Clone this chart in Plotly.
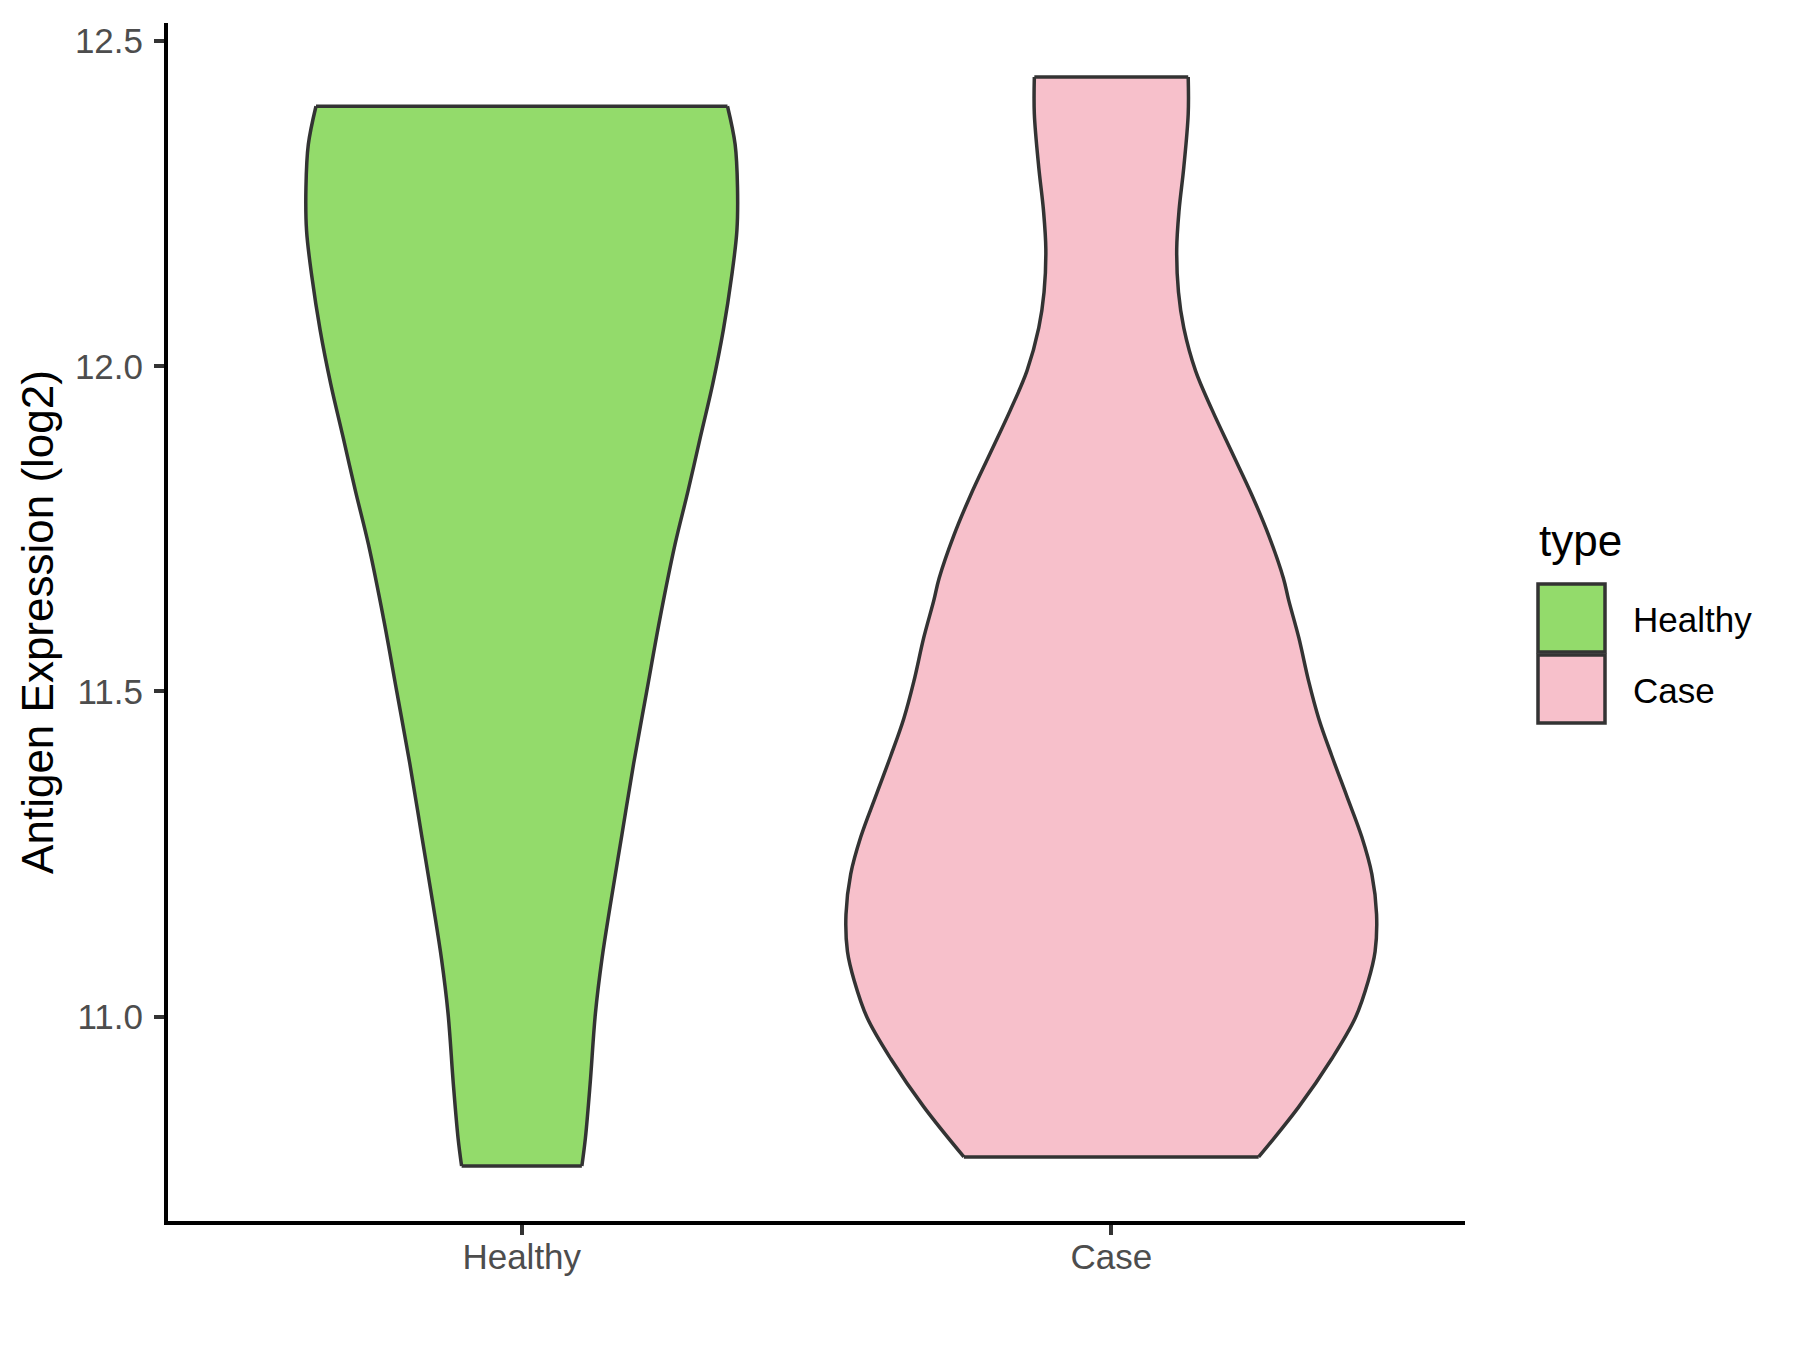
import plotly.graph_objects as go

# ---------------- data ----------------
categories = ["Healthy", "Case"]

# violin density profiles: expression value (log2) and half-width (category units)
healthy_y = [10.770, 10.813, 10.896, 11.005, 11.088, 11.170, 11.280, 11.390, 11.500,
             11.610, 11.726, 11.808, 11.891, 11.973, 12.056, 12.138, 12.209,
             12.275, 12.341, 12.400]
healthy_hw = [0.102, 0.108, 0.116, 0.125, 0.136, 0.150, 0.170, 0.190, 0.212,
              0.234, 0.260, 0.282, 0.303, 0.324, 0.342, 0.356, 0.365,
              0.366, 0.362, 0.349]

case_y = [10.784, 10.861, 10.935, 10.998, 11.055, 11.100, 11.157, 11.219, 11.276,
          11.339, 11.401, 11.458, 11.515, 11.583, 11.640, 11.674, 11.740, 11.801,
          11.867, 11.933, 11.993, 12.059, 12.114, 12.180, 12.240, 12.306, 12.388,
          12.445]
case_hw = [0.250, 0.318, 0.374, 0.414, 0.436, 0.4475, 0.450, 0.442, 0.425,
           0.3995, 0.374, 0.352, 0.335, 0.318, 0.301, 0.292, 0.267, 0.239,
           0.205, 0.171, 0.143, 0.123, 0.114, 0.111, 0.115, 0.123, 0.1305,
           0.1305]

y_ticks = [11.0, 11.5, 12.0, 12.5]
y_tick_labels = ["11.0", "11.5", "12.0", "12.5"]

# ---------------- styles ----------------
fill_colors = ["#93DB6B", "#F7C0CB"]
outline = "#333333"
LW = 3.5
FONT = "Liberation Sans, Arial, sans-serif"

profiles = [(healthy_y, healthy_hw), (case_y, case_hw)]

fig = go.Figure()
for i, (name, (ys, hws), col) in enumerate(zip(categories, profiles, fill_colors)):
    right_x = [i + w for w in hws]
    left_x = [i - w for w in hws]
    ys = list(ys)
    # filled body (no outline)
    fig.add_trace(go.Scatter(
        x=right_x + left_x[::-1], y=ys + ys[::-1], mode="lines", fill="toself",
        fillcolor=col, line=dict(width=0), name=name, showlegend=False,
        hoverinfo="name"))
    # smooth outline: each side splined on its own, flat top and bottom
    ox = right_x + [None] + left_x + [None] + [left_x[-1], right_x[-1]] + [None] + [left_x[0], right_x[0]]
    oy = ys + [None] + ys + [None] + [ys[-1], ys[-1]] + [None] + [ys[0], ys[0]]
    fig.add_trace(go.Scatter(
        x=ox, y=oy, mode="lines", connectgaps=False,
        line=dict(color=outline, width=LW, shape="spline", smoothing=1.0),
        showlegend=False, hoverinfo="skip"))

# ---------------- layout ----------------
# (the page body adds an 8px offset, so the figure box is shifted accordingly)
W, H = 1800, 1350
L, R, T, B = 160, 1457, 15, 1213


def px(x):
    return (x - L) / (R - L)


def py(y):
    return (B - y) / (B - T)


axis_common = dict(
    showline=True, linecolor="black", linewidth=4,
    ticks="outside", ticklen=10, tickwidth=4, tickcolor=outline,
    tickfont=dict(family=FONT, size=35, color="#4D4D4D"),
    showgrid=False, zeroline=False,
)

fig.update_layout(
    width=W, height=H,
    margin=dict(l=L, r=W - R, t=T, b=H - B),
    paper_bgcolor="white", plot_bgcolor="white",
    font=dict(family=FONT),
    showlegend=False,
    xaxis=dict(range=[-0.6, 1.6], tickmode="array", tickvals=[0, 1],
               ticktext=categories, ticklabelstandoff=-8, **axis_common),
    yaxis=dict(range=[10.6855, 12.528], tickmode="array", tickvals=y_ticks,
               ticktext=y_tick_labels, ticklabelstandoff=4,
               title=dict(text="Antigen Expression (log2)",
                          font=dict(family=FONT, size=44, color="black"),
                          standoff=8),
               **axis_common),
)

# ---------------- legend (ggplot style, drawn manually) ----------------
shapes = []
annotations = [dict(text="type", x=px(1529), y=py(532), xref="paper", yref="paper",
                    xanchor="left", yanchor="middle", showarrow=False,
                    font=dict(family=FONT, size=44, color="black"))]
key_tops = [576, 647]
label_centers = [611, 682]
for name, col, top, lc in zip(categories, fill_colors, key_tops, label_centers):
    shapes.append(dict(type="rect", xref="paper", yref="paper",
                       x0=px(1530), x1=px(1597), y0=py(top), y1=py(top + 68),
                       fillcolor=col, line=dict(color=outline, width=LW)))
    annotations.append(dict(text=name, x=px(1623), y=py(lc), xref="paper", yref="paper",
                            xanchor="left", yanchor="middle", showarrow=False,
                            font=dict(family=FONT, size=35, color="black")))
fig.update_layout(shapes=shapes, annotations=annotations)

fig.write_html("out.html")
